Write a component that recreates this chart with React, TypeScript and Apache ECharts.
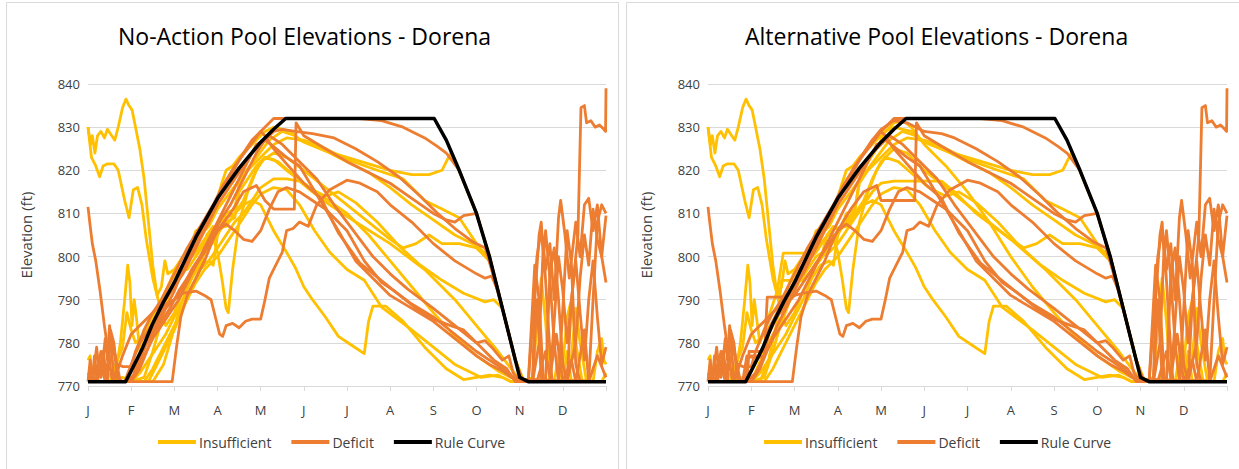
import React, { useEffect, useRef } from "react";
import * as echarts from "echarts";

// ---- tick labels ----
const monthLabels = ["J", "F", "M", "A", "M", "J", "J", "A", "S", "O", "N", "D", ""];

// ---- rule curve [month, elevation ft] ----
const ruleCurve = [[0,771],[0.87,771],[1.0,773.5],[1.25,778.5],[1.5,784.5],[1.75,789.5],[2.0,794],[2.5,804.5],[3.0,813.5],[3.5,820.5],[4.0,826.5],[4.3,829.5],[4.58,832],[8.02,832],[8.3,827],[8.6,820],[9.0,810],[9.3,800],[9.6,788],[9.8,780],[10.0,772],[10.2,771],[12,771]];

// ---- No-Action : Insufficient ----
const naIns1 = [[0,830],[0.06,826],[0.1,828],[0.16,824],[0.22,828],[0.3,829],[0.38,827.5],[0.45,829.5],[0.55,828],[0.62,827],[0.7,830],[0.8,834.5],[0.88,836.5],[0.95,835],[1.02,834],[1.08,831],[1.2,825],[1.3,818],[1.4,808],[1.5,798],[1.6,791],[1.7,793],[1.78,799],[1.85,796],[2.0,797],[2.2,800],[2.5,804],[2.8,807],[3.0,811],[3.3,815],[3.6,819],[3.9,823],[4.2,827],[4.5,829],[4.8,828],[5.0,826.5],[5.5,824.5],[6.0,823],[6.5,821.5],[7.0,820],[7.5,819],[7.9,819],[8.2,820],[8.4,824],[8.55,821],[9.0,810],[9.3,800],[9.6,788],[9.9,776],[10.05,771.5],[10.4,771],[11.0,771],[11.1,778],[11.2,771],[12,771]];
const naIns2 = [[0,830],[0.08,823],[0.18,821],[0.27,818.5],[0.35,821],[0.45,821.5],[0.6,821.5],[0.7,820],[0.85,813],[0.95,809],[1.05,815.5],[1.15,816],[1.25,812],[1.35,804],[1.5,795],[1.65,789],[1.8,784],[2.0,787],[2.2,792],[2.5,798],[2.8,802],[3.0,805],[3.2,810],[3.4,811],[3.5,817],[3.7,820],[4.0,823],[4.3,826],[4.6,827.5],[5.0,827],[5.4,825.5],[6.0,822.5],[6.7,820],[7.3,818],[7.8,813],[8.2,811],[8.6,809],[9.1,801.5],[9.3,800],[9.6,788],[9.9,776],[10.05,771.5],[12,771]];
const naIns3 = [[0,776],[0.05,777],[0.1,772],[0.2,771],[0.5,771],[0.65,774],[0.75,780],[0.85,790],[0.92,798],[0.97,794],[1.02,784],[1.07,790],[1.12,786],[1.2,778],[1.3,783],[1.5,786],[1.7,790],[1.9,794],[2.0,796],[2.3,797],[2.5,800],[2.7,803],[2.9,806.5],[3.2,807],[3.4,810],[3.6,813],[3.8,818],[4.0,822],[4.3,824],[4.6,823],[5.0,820],[5.5,816],[6.0,812],[6.5,808],[7.0,804],[7.3,802],[7.6,803],[7.9,805],[8.2,803],[8.6,803],[9.0,802],[9.3,799],[9.6,788],[9.9,776],[10.1,771],[10.3,772],[10.45,790],[10.5,795],[10.6,785],[10.7,771],[10.9,771],[11.0,775],[11.1,786],[11.2,790],[11.3,780],[11.45,771],[11.7,771],[11.8,778],[11.9,781],[11.95,776],[12,775]];
const naIns4 = [[0,771],[0.5,771],[0.8,772],[1.0,771],[1.3,772],[1.5,778],[1.7,785],[1.9,792],[2.1,797],[2.3,799],[2.5,801],[2.7,804],[2.85,806],[3.0,801],[3.1,795],[3.2,788],[3.25,787],[3.35,797],[3.5,808],[3.7,815],[3.9,820],[4.1,823],[4.4,822],[4.8,818.5],[5.1,816],[5.5,814],[5.8,815],[6.2,812.5],[6.7,808],[7.2,802.5],[7.7,798],[8.2,794.5],[8.7,791.5],[9.2,789.5],[9.4,790],[9.6,788],[9.9,776],[10.1,771],[12,771]];
const naIns5 = [[0,771],[1.0,771],[1.2,773],[1.4,776],[1.6,779],[1.8,782],[2.0,786],[2.2,790],[2.4,795],[2.6,798],[2.8,799],[2.9,798],[3.0,805],[3.2,809],[3.4,810],[3.6,812],[3.8,813],[4.0,812],[4.3,806],[4.6,801],[4.8,797.5],[5.0,793],[5.2,790],[5.5,786],[5.8,781.5],[6.1,779.5],[6.4,777.5],[6.5,785],[6.6,788.5],[6.9,788.5],[7.3,785],[7.8,779],[8.3,774],[8.7,771.5],[9.0,772],[9.3,772.5],[9.6,772],[9.8,771],[10.4,771],[10.5,774],[10.6,771],[10.8,771],[10.95,780],[11.05,771],[11.2,777],[11.3,788],[11.4,780],[11.55,771],[11.9,771],[12,773]];
const naIns6 = [[0,771],[1.3,771],[1.5,774],[1.7,778],[1.9,782],[2.1,786],[2.3,790],[2.5,794],[2.7,797],[3.0,800],[3.2,803],[3.4,806],[3.6,809],[3.8,812],[4.0,814.5],[4.3,816],[4.6,815.5],[4.9,812],[5.25,806],[5.6,801],[6.0,797],[6.4,794.5],[6.8,788.3],[7.1,786],[7.5,783],[8.0,779],[8.5,775],[9.1,772],[9.5,772.5],[9.8,771],[12,771]];
const naIns7 = [[0,771],[0.4,771],[0.6,774],[0.8,779],[0.9,787],[1.0,783],[1.1,780],[1.3,782],[1.5,785],[1.7,789],[1.85,793],[2.0,796.5],[2.2,800],[2.4,803],[2.5,806],[2.7,807],[2.8,808.5],[2.95,812],[3.1,817],[3.2,820],[3.35,821],[3.5,823],[3.7,825],[3.9,827],[4.1,829],[4.3,830],[4.5,829.5],[4.7,829],[4.9,827],[5.2,826],[5.6,824],[6.0,822],[6.5,819.5],[7.0,816],[7.5,812],[8.0,808.5],[8.5,805],[9.0,802.5],[9.3,800],[9.6,788],[9.9,776],[10.05,771.5],[12,771]];
const naIns8 = [[0,771],[1.4,771],[1.6,775],[1.8,779],[2.0,783],[2.2,788],[2.4,793],[2.6,797],[2.8,799],[3.0,802],[3.2,805],[3.4,808],[3.6,810],[3.8,813],[4.0,816],[4.3,818],[4.6,818],[4.9,817.5],[5.2,815],[5.6,812],[6.2,808],[7.0,803],[7.8,797],[8.5,790],[9.0,784],[9.5,778],[9.8,774],[10.0,771.5],[12,771]];
const naIns9 = [[0,771],[1.0,771],[1.5,771],[1.75,775],[1.9,780],[2.1,787],[2.3,793],[2.5,797],[2.65,799],[2.75,805],[2.9,807],[3.05,806],[3.2,808],[3.4,809],[3.5,815],[3.7,818],[3.9,821],[4.1,823],[4.3,822.5],[4.6,820],[5.0,817],[5.5,813.5],[6.0,810],[6.5,805],[7.0,799],[7.5,793],[8.0,787],[8.5,781.5],[9.0,777],[9.5,773.5],[9.9,771.5],[12,771]];

// ---- No-Action : Deficit ----
const naDef1 = [[0,811.5],[0.04,808],[0.1,803],[0.18,799],[0.28,792],[0.38,784],[0.48,777],[0.55,772],[0.6,771],[1.0,771],[1.5,771],[1.95,771],[2.05,779],[2.15,786],[2.3,791],[2.5,795],[2.7,799],[2.9,804],[3.0,806],[3.2,807.5],[3.4,806],[3.6,804],[3.8,803.5],[4.0,806],[4.2,811],[4.4,815],[4.6,816],[4.9,815],[5.2,813],[5.5,811],[5.8,808],[6.0,806],[6.4,799],[6.8,794],[7.1,792],[7.5,789],[8.0,786],[8.5,782],[9.0,778],[9.3,776],[9.6,774],[9.85,772],[10.0,771],[10.3,771],[10.35,790],[10.45,805],[10.5,808],[10.55,800],[10.6,806],[10.7,795],[10.8,780],[10.9,771],[11.1,771],[11.2,790],[11.35,805],[11.42,834.5],[11.5,835],[11.55,831],[11.65,831.5],[11.75,830],[11.85,830.5],[11.95,829.5],[11.99,829],[12,839]];
const naDef2 = [[0,771],[0.05,776],[0.1,771],[0.2,779],[0.25,774],[0.3,772],[0.4,781],[0.45,776],[0.5,784],[0.55,778],[0.6,771],[0.7,775],[0.8,774.5],[1.0,774.5],[1.1,778],[1.3,783],[1.5,787],[1.7,790],[1.9,794],[2.1,798],[2.3,802],[2.6,807],[2.9,812],[3.1,816],[3.4,821],[3.7,825],[4.0,829],[4.3,832],[4.6,832],[5.5,832],[6.3,832],[6.8,831.5],[7.3,830],[7.8,827.5],[8.1,825.5],[8.3,824],[8.6,820],[9.0,810],[9.3,800],[9.6,788],[9.9,776],[10.05,771.5],[10.2,771],[10.3,785],[10.4,800],[10.5,806],[10.6,797],[10.7,803],[10.8,790],[10.9,809],[10.95,813],[11.05,805],[11.15,795],[11.3,808],[11.4,800],[11.5,812],[11.6,813.5],[11.7,806],[11.8,812],[11.9,800],[12,809.5]];
const naDef3 = [[0,773],[0.1,771],[0.15,777],[0.22,771],[0.35,778],[0.45,771],[0.52,783],[0.6,780],[0.68,772],[0.8,771],[1.0,771],[1.2,776],[1.4,781],[1.6,785],[1.8,788],[2.0,790],[2.2,793],[2.4,797],[2.6,800],[2.8,803],[3.0,806],[3.3,810],[3.6,815],[3.9,816.5],[4.1,813],[4.3,811],[4.6,811],[4.78,811],[4.82,831],[5.0,828],[5.5,825],[6.0,822],[6.5,819.5],[7.0,817],[7.5,813.5],[8.0,810],[8.3,808.5],[8.5,808],[8.7,809.5],[9.0,810],[9.3,800],[9.6,788],[9.9,776],[10.05,771.5],[12,771]];
const naDef4 = [[0,771],[0.3,775],[0.4,771],[0.6,779],[0.7,771],[0.85,771],[1.0,775],[1.2,780],[1.4,783],[1.6,786],[1.8,789],[2.0,790],[2.2,791.5],[2.5,792],[2.7,791],[2.85,790],[2.95,786],[3.05,782],[3.12,781.5],[3.2,784],[3.35,784.5],[3.5,783.5],[3.65,785],[3.8,785.5],[4.0,785.5],[4.1,790],[4.2,795],[4.35,798],[4.5,801],[4.6,806],[4.75,806.5],[4.9,808],[5.1,807],[5.3,812],[5.6,815.5],[6.0,817.7],[6.3,817],[6.7,815],[7.0,812],[7.5,808],[8.0,803],[8.5,799],[9.0,796],[9.2,795],[9.35,795.5],[9.5,792],[9.6,788],[9.9,776],[10.05,771.5],[10.2,771],[10.35,798],[10.45,790],[10.55,771],[10.7,771],[10.8,785],[10.9,800],[11.0,792],[11.1,780],[11.2,790],[11.3,799],[11.4,787],[11.5,776],[11.6,790],[11.7,799],[11.8,786],[11.9,775],[12,779]];
const naDef5 = [[0,771],[1.0,771],[1.1,774],[1.3,779],[1.5,782],[1.7,785],[1.9,788],[2.1,792],[2.3,795],[2.5,798],[2.7,801],[2.9,805],[3.1,809],[3.3,812],[3.5,816],[3.7,820],[3.9,824],[4.1,827],[4.3,829],[4.5,829.5],[4.8,829],[5.2,828.5],[5.7,827.5],[6.2,825],[6.7,822],[7.2,818.5],[7.7,814],[8.1,810],[8.5,806.5],[8.9,803.5],[9.2,802],[9.35,797],[9.6,788],[9.9,776],[10.05,771.5],[12,771]];
const naDef6 = [[0,771],[0.9,771],[1.1,773],[1.3,777],[1.5,781],[1.7,784],[1.9,787],[2.1,790],[2.3,794],[2.5,798],[2.7,802],[2.9,806],[3.1,810],[3.3,814],[3.5,818],[3.7,822],[3.9,826],[4.1,827],[4.3,825.5],[4.6,823],[4.9,821],[5.2,816],[5.5,811],[5.8,806],[6.2,799],[6.6,795],[7.0,791],[7.5,788],[8.0,785],[8.5,781],[9.0,777],[9.3,775],[9.6,773.5],[9.8,772],[10.0,771],[10.3,771],[10.4,790],[10.5,772],[10.6,771],[10.7,796],[10.8,802],[10.9,790],[11.0,775],[11.1,771],[11.3,780],[11.4,795],[11.5,805],[11.6,798],[11.7,811],[11.8,804],[11.9,800],[12,794]];
const naDef7 = [[0,771],[0.6,771],[0.8,777],[1.0,782],[1.2,784],[1.4,786],[1.6,788],[1.8,790],[2.0,793],[2.2,796],[2.4,800],[2.6,804],[2.8,808],[3.0,812],[3.2,815],[3.4,818],[3.6,821],[3.8,824],[4.0,826],[4.2,828],[4.5,826],[4.9,822],[5.3,818],[5.7,812],[6.0,808],[6.3,804],[6.6,800],[7.0,796],[7.4,792.5],[8.0,788],[8.5,784],[9.0,780],[9.2,780.5],[9.35,779],[9.6,776],[9.75,777],[9.85,773],[10.0,771],[10.3,771],[10.45,780],[10.55,803],[10.65,786],[10.75,771],[10.9,771],[11.0,788],[11.1,806],[11.2,798],[11.3,775],[11.4,771],[11.6,771],[11.7,790],[11.8,808],[11.9,812],[12,810]];
const naDef8 = [[0,772],[0.15,771],[0.3,778],[0.4,772],[0.55,781],[0.65,776],[0.75,771],[1.0,771],[1.2,774],[1.4,779],[1.6,784],[1.8,788],[2.0,792],[2.2,797],[2.4,801],[2.6,805],[2.8,809],[3.0,813],[3.2,817],[3.4,820.5],[3.6,824],[3.8,827],[4.0,829],[4.1,828],[4.3,825],[4.6,821.5],[5.0,817],[5.4,813.5],[5.8,805.5],[6.3,798.5],[7.1,792],[7.6,788],[8.0,785.5],[8.4,784],[8.7,783],[9.0,780],[9.4,776],[9.7,774],[9.9,771],[10.4,771],[10.6,778],[10.7,772],[10.85,782],[11.0,771],[11.2,776],[11.3,771],[11.5,783],[11.6,771],[11.8,777],[12,772]];

// ---- Alternative : variants that differ from No-Action ----
const altIns3 = [[0,776],[0.05,777],[0.1,772],[0.2,771],[0.5,771],[0.65,774],[0.75,780],[0.85,790],[0.92,798],[0.97,794],[1.02,784],[1.07,790],[1.12,786],[1.2,780],[1.4,786],[1.6,792],[1.74,800.8],[2.37,800.8],[2.6,803],[2.9,806.5],[3.2,807],[3.4,810],[3.6,813],[3.8,818],[4.0,822],[4.3,825],[4.6,824],[5.0,820],[5.5,816],[6.0,812],[6.5,808],[7.0,804],[7.3,802],[7.6,803],[7.9,805],[8.2,803],[8.6,803],[9.0,802],[9.3,799],[9.6,788],[9.9,776],[10.1,771],[10.3,772],[10.45,790],[10.5,795],[10.6,785],[10.7,771],[10.9,771],[11.0,775],[11.1,786],[11.2,790],[11.3,780],[11.45,771],[11.7,771],[11.8,778],[11.9,781],[11.95,776],[12,775]];
const altIns8 = [[0,771],[1.2,771],[1.4,776],[1.6,785],[1.7,794.5],[2.2,794.5],[2.4,797],[2.6,800],[2.8,801],[3.0,803],[3.2,806],[3.4,809],[3.6,812],[3.8,815],[4.0,817],[4.3,817.5],[4.6,817.5],[5.0,817.5],[5.4,817.5],[5.7,815],[6.2,810],[7.0,804],[7.8,797],[8.5,790],[9.0,784],[9.5,778],[9.8,774],[10.0,771.5],[12,771]];
const altIns9 = [[0,771],[1.0,771],[1.3,778],[1.5,782],[1.75,786],[1.9,790],[2.1,794],[2.3,797],[2.5,800],[2.65,801],[2.75,805],[2.9,807],[3.05,806],[3.2,808],[3.4,811],[3.5,818],[3.7,822],[3.9,825],[4.1,829],[4.3,831],[4.5,831.5],[4.7,830],[5.0,826],[5.5,821],[6.0,815],[6.5,808],[7.0,800],[7.5,793],[8.0,787],[8.5,781.5],[9.0,777],[9.5,773.5],[9.9,771.5],[12,771]];
const altDef3 = [[0,773],[0.1,771],[0.15,777],[0.22,771],[0.35,778],[0.45,771],[0.52,783],[0.6,780],[0.68,772],[0.8,771],[0.9,777],[1.3,777],[1.4,782],[1.6,786],[1.8,789],[2.0,791],[2.2,794],[2.4,797],[2.6,800],[2.8,803],[3.0,806],[3.3,811],[3.6,815],[3.9,816.5],[4.0,813],[4.4,813],[4.78,813],[4.82,831],[5.0,828],[5.5,825],[6.0,822],[6.5,819.5],[7.0,817],[7.5,813.5],[8.0,810],[8.3,808.5],[8.5,808],[8.7,809.5],[9.0,810],[9.3,800],[9.6,788],[9.9,776],[10.05,771.5],[12,771]];
const altDef4 = [[0,771],[0.3,775],[0.4,771],[0.6,779],[0.7,771],[0.85,771],[0.9,776.7],[1.3,776.7],[1.37,790.6],[1.68,790.6],[1.8,791],[2.0,791],[2.2,791.5],[2.5,792],[2.7,791],[2.85,790],[2.95,786],[3.05,782],[3.12,781.5],[3.2,784],[3.35,784.5],[3.5,783.5],[3.65,785],[3.8,785.5],[4.0,785.5],[4.1,790],[4.2,795],[4.35,798],[4.5,801],[4.6,806],[4.75,806.5],[4.9,808],[5.1,807],[5.3,812],[5.6,815.5],[6.0,817.7],[6.3,817],[6.7,815],[7.0,812],[7.5,808],[8.0,803],[8.5,799],[9.0,796],[9.2,795],[9.35,795.5],[9.5,792],[9.6,788],[9.9,776],[10.05,771.5],[10.2,771],[10.35,798],[10.45,790],[10.55,771],[10.7,771],[10.8,785],[10.9,800],[11.0,792],[11.1,780],[11.2,790],[11.3,799],[11.4,787],[11.5,776],[11.6,790],[11.7,799],[11.8,786],[11.9,775],[12,779]];
const altDef5 = [[0,771],[0.9,771],[0.95,778],[1.3,778],[1.4,783],[1.6,787],[1.8,790],[2.0,793],[2.2,797],[2.4,801],[2.6,805],[2.8,809],[3.0,813],[3.2,817],[3.4,821],[3.6,824],[3.8,827],[4.0,829.5],[4.3,831.5],[4.6,831],[5.0,829],[5.4,828.5],[5.7,827.5],[6.2,825],[6.7,822],[7.2,818.5],[7.7,814],[8.1,810],[8.5,806.5],[8.9,803.5],[9.2,802],[9.35,797],[9.6,788],[9.9,776],[10.05,771.5],[12,771]];

const naInsufficient = [naIns1, naIns2, naIns3, naIns4, naIns5, naIns6, naIns7, naIns8, naIns9];
const naDeficit = [naDef1, naDef2, naDef3, naDef4, naDef5, naDef6, naDef7, naDef8];
const altInsufficient = [naIns1, naIns2, altIns3, naIns4, naIns5, naIns6, naIns7, altIns8, altIns9];
const altDeficit = [naDef1, naDef2, altDef3, altDef4, altDef5, naDef6, naDef7, naDef8];

const titles = ["No-Action Pool Elevations - Dorena", "Alternative Pool Elevations - Dorena"];

const YELLOW = "#FFC000";
const ORANGE = "#ED7D31";
const FONT = "'Open Sans', 'Liberation Sans', sans-serif";
const TEXT = "#404040";

function lineSeries(name: string, data: number[][], color: string, idx: number, width: number) {
  return {
    type: "line",
    name,
    data,
    xAxisIndex: idx,
    yAxisIndex: idx,
    showSymbol: false,
    symbol: "none",
    color,
    lineStyle: { width, color, join: "round" },
    silent: true,
    emphasis: { disabled: true },
  };
}

export default function App() {
  const ref = useRef<HTMLDivElement>(null);
  useEffect(() => {
    if (!ref.current) return;
    const chart = echarts.init(ref.current, undefined, { renderer: "svg" });
    const grids = [
      { left: 88, width: 518, top: 84, height: 302 },
      { left: 708, width: 519, top: 84, height: 302 },
    ];
    const panels = [
      { ins: naInsufficient, def: naDeficit },
      { ins: altInsufficient, def: altDeficit },
    ];
    const series: any[] = [];
    panels.forEach((p, i) => {
      p.ins.forEach((d) => series.push(lineSeries("Insufficient", d, YELLOW, i, 2.8)));
      p.def.forEach((d) => series.push(lineSeries("Deficit", d, ORANGE, i, 2.8)));
      series.push(lineSeries("Rule Curve", ruleCurve, "#000000", i, 3.5));
    });
    const xAxis = grids.map((_, i) => ({
      type: "value",
      gridIndex: i,
      min: 0,
      max: 12,
      interval: 1,
      axisLine: { show: true, lineStyle: { color: "#d9d9d9", width: 1 } },
      axisTick: { show: true, length: 5, lineStyle: { color: "#d9d9d9" } },
      splitLine: { show: false },
      axisLabel: {
        formatter: (v: number) => monthLabels[Math.round(v)] ?? "",
        color: TEXT,
        fontFamily: FONT,
        fontSize: 13,
        margin: 17,
        showMaxLabel: true,
      },
    }));
    const yAxis = grids.map((_, i) => ({
      type: "value",
      gridIndex: i,
      min: 770,
      max: 840,
      interval: 10,
      name: "Elevation (ft)",
      nameLocation: "middle",
      nameGap: 55,
      nameTextStyle: { color: TEXT, fontFamily: FONT, fontSize: 15 },
      axisLine: { show: false },
      axisTick: { show: false },
      splitLine: { show: true, lineStyle: { color: "#d9d9d9", width: 1 } },
      axisLabel: { color: TEXT, fontFamily: FONT, fontSize: 13, margin: 8 },
    }));
    const legendBase = {
      bottom: 15,
      icon: "rect",
      itemWidth: 38,
      itemHeight: 4,
      itemGap: 20,
      textStyle: { color: TEXT, fontFamily: FONT, fontSize: 14, padding: [0, 0, 0, -2] },
      data: ["Insufficient", "Deficit", "Rule Curve"],
      selectedMode: false,
    };
    chart.setOption({
      animation: false,
      backgroundColor: "#ffffff",
      title: [
        { text: titles[0], left: 113, top: 19, textStyle: { fontFamily: FONT, fontSize: 23, fontWeight: "normal", color: "#000000" } },
        { text: titles[1], left: 740, top: 19, textStyle: { fontFamily: FONT, fontSize: 23, fontWeight: "normal", color: "#000000" } },
      ],
      legend: [
        { ...legendBase, left: 153 },
        { ...legendBase, left: 759 },
      ],
      grid: grids,
      xAxis,
      yAxis,
      series,
      graphic: [
        { type: "rect", shape: { x: 6.5, y: 2.5, width: 612, height: 480 }, style: { fill: "none", stroke: "#d9d9d9", lineWidth: 1 }, silent: true },
        { type: "rect", shape: { x: 626.5, y: 2.5, width: 620, height: 480 }, style: { fill: "none", stroke: "#d9d9d9", lineWidth: 1 }, silent: true },
      ],
    });
    return () => chart.dispose();
  }, []);
  return <div ref={ref} style={{ position: "fixed", left: 0, top: 0, width: 1239, height: 469 }} />;
}
